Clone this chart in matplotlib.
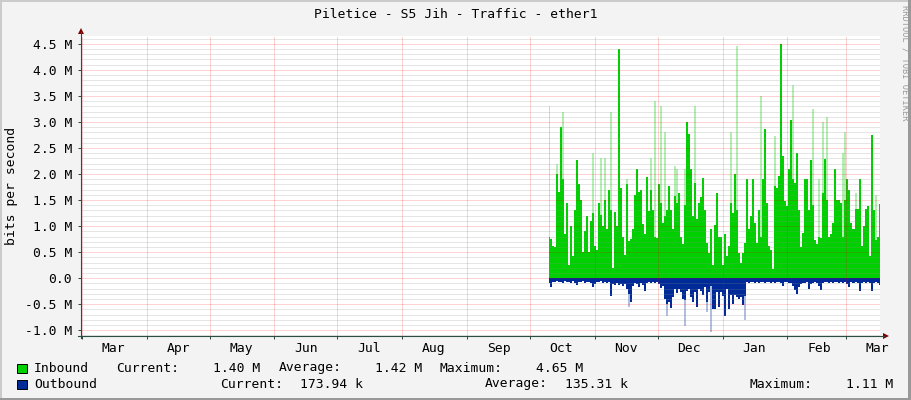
import numpy as np
import pandas as pd
import matplotlib
matplotlib.use("Agg")
import matplotlib.pyplot as plt
import matplotlib.dates as mdates
from matplotlib.patches import Rectangle, Polygon
from matplotlib.lines import Line2D
from matplotlib.ticker import MultipleLocator, FuncFormatter, NullFormatter

# ---- data (Mbit/s) ----
title = "Piletice - S5 Jih - Traffic - ether1"
y_label = "bits per second"
watermark = "RRDTOOL / TOBI OETIKER"

view_start, view_end = "2014-02-28 14:00", "2015-03-17 05:00"
data_start, data_end = "2014-10-10", "2015-03-17"
y_min, y_max = -1.11, 4.65

inbound = [
    0.80, 0.75, 0.62, 0.60, 2.00, 1.65, 2.90, 1.90, 0.85, 1.45,
    0.25, 1.00, 0.42, 1.30, 2.27, 1.80, 1.50, 0.50, 0.90, 1.20,
    0.50, 1.10, 1.25, 0.62, 0.55, 1.45, 1.22, 1.00, 1.50, 0.95,
    1.70, 1.30, 0.20, 1.27, 1.00, 4.40, 1.74, 0.80, 0.45, 1.80,
    0.71, 0.75, 0.94, 1.60, 2.10, 1.65, 1.70, 1.05, 0.85, 1.95,
    1.29, 1.70, 1.30, 0.80, 0.78,
    1.80, 1.45, 1.06, 1.20, 1.30, 1.77, 1.30, 0.94, 1.58, 1.45,
    1.64, 0.80, 0.65, 1.40, 3.00, 2.76, 2.10, 1.20, 1.83, 1.13,
    1.45, 1.55, 1.93, 1.30, 0.68, 0.49, 0.94, 0.26, 1.03, 1.64,
    0.80, 0.80, 0.26, 0.84, 0.42, 0.62, 1.45, 1.26, 2.00, 1.30,
    0.49, 0.30, 0.49, 0.68, 1.90, 0.95, 1.20, 1.90, 1.06, 0.68,
    1.30, 0.80, 1.90, 2.86, 1.45,
    0.62, 0.55, 0.17, 1.77, 1.74, 1.96, 4.50, 2.35, 1.48, 1.38,
    2.10, 3.03, 1.90, 1.83, 2.40, 1.30, 0.60, 0.87, 1.90, 1.90,
    1.30, 2.27, 1.40, 0.74, 0.65, 0.80, 0.78, 1.64, 2.28, 1.50,
    0.80, 0.84, 1.06, 2.10, 1.50, 1.50, 1.45, 0.80, 1.50, 1.90,
    1.70, 1.06, 0.94, 1.32, 1.32, 1.90, 0.62, 1.00, 1.32, 1.38,
    0.42, 2.75, 1.30, 0.74, 0.80, 1.42,
]
# short bursts that show as faded tops
inbound_peak_at = [0, 4, 7, 22, 26, 28, 31, 39, 51, 53,
                   56, 58, 63, 64, 68, 73, 91, 94, 106,
                   113, 122, 132, 135, 137, 139, 147, 148, 153, 163]
inbound_peak = [3.3, 2.2, 3.2, 2.4, 2.3, 2.3, 3.2, 1.9, 2.3, 3.4,
                3.3, 2.8, 2.15, 2.1, 2.1, 3.3, 2.8, 4.46, 3.5,
                2.73, 3.7, 3.24, 1.9, 3.0, 3.1, 2.4, 2.8, 1.64, 1.6]

outbound = [
    0.10, 0.17, 0.07, 0.08, 0.06, 0.08, 0.07, 0.09, 0.06, 0.08,
    0.07, 0.09, 0.06, 0.10, 0.13, 0.07, 0.08, 0.06, 0.09, 0.07,
    0.08, 0.10, 0.17, 0.12, 0.07, 0.08, 0.06, 0.09, 0.07, 0.10,
    0.08, 0.35, 0.12, 0.14, 0.10, 0.13, 0.11, 0.15, 0.12, 0.20,
    0.30, 0.45, 0.15, 0.10, 0.12, 0.17, 0.10, 0.13, 0.24, 0.09,
    0.08, 0.10, 0.07, 0.09, 0.08, 0.12, 0.18, 0.15, 0.40, 0.50,
    0.45, 0.58, 0.36, 0.20, 0.28, 0.21, 0.27, 0.40, 0.42, 0.24,
    0.20, 0.36, 0.46, 0.27, 0.56, 0.20, 0.25, 0.33, 0.16, 0.45,
    0.27, 0.15, 0.59, 0.59, 0.27, 0.56, 0.27, 0.35, 0.72, 0.20,
    0.59, 0.33, 0.49, 0.33, 0.36, 0.40, 0.36, 0.52, 0.35, 0.08,
    0.09, 0.07, 0.08, 0.10, 0.07, 0.09, 0.08, 0.07, 0.10, 0.08,
    0.07, 0.09, 0.08, 0.10, 0.08, 0.07, 0.09, 0.15, 0.08, 0.07,
    0.10, 0.09, 0.15, 0.22, 0.30, 0.17, 0.12, 0.09, 0.10, 0.08,
    0.20, 0.12, 0.09, 0.08, 0.10, 0.15, 0.22, 0.09, 0.08, 0.07,
    0.09, 0.08, 0.10, 0.08, 0.07, 0.09, 0.08, 0.10, 0.08, 0.11,
    0.17, 0.08, 0.09, 0.07, 0.10, 0.24, 0.10, 0.08, 0.09, 0.07,
    0.10, 0.24, 0.09, 0.08, 0.10, 0.14,
]
outbound_peak_at = [40, 59, 68, 79, 81, 98]
outbound_peak = [0.56, 0.72, 0.91, 0.65, 1.04, 0.81]

series_names = ["Inbound", "Outbound"]
stat_names = ["Current:", "Average:", "Maximum:"]
inbound_stats = ["1.40 M", "1.42 M", "4.65 M"]
outbound_stats = ["173.94 k", "135.31 k", "1.11 M"]

# ---- style ----
W, H = 911, 400
GREEN, BLUE = "#00CF00", "#002A97"
FS = 9.4
plt.rcParams["font.family"] = ["DejaVu Sans Mono"]

def fx(x):
    return x / W

def fy(y):
    return 1 - y / H

fig = plt.figure(figsize=(W / 100, H / 100), dpi=100, facecolor="#F3F3F3")
ax = fig.add_axes([fx(81), fy(336), (880 - 81) / W, (336 - 36) / H])
ax.set_facecolor("white")

t = pd.date_range(data_start, data_end, periods=len(inbound))
inb = np.array(inbound)
inb_peak = inb.copy()
inb_peak[inbound_peak_at] = inbound_peak
outb = np.array(outbound)
outb_peak = outb.copy()
outb_peak[outbound_peak_at] = outbound_peak

ax.fill_between(t, 0, inb_peak, step="mid", color=GREEN, alpha=0.3, lw=0)
ax.fill_between(t, 0, inb, step="mid", color=GREEN, lw=0)
ax.fill_between(t, 0, -outb_peak, step="mid", color=BLUE, alpha=0.3, lw=0)
ax.fill_between(t, 0, -outb, step="mid", color=BLUE, lw=0)

ax.set_xlim(pd.Timestamp(view_start), pd.Timestamp(view_end))
ax.set_ylim(y_min, y_max)

# grid on top of the data, like rrdtool
ax.set_axisbelow(False)
ax.yaxis.set_major_locator(MultipleLocator(0.5))
ax.yaxis.set_minor_locator(MultipleLocator(0.1))
ax.yaxis.set_major_formatter(FuncFormatter(lambda v, p: "0.0" if abs(v) < 1e-9 else f"{v:.1f} M"))
ax.xaxis.set_major_locator(mdates.MonthLocator(bymonthday=1))
ax.xaxis.set_major_formatter(NullFormatter())
ax.xaxis.set_minor_locator(mdates.MonthLocator(bymonthday=16))
ax.xaxis.set_minor_formatter(mdates.DateFormatter("%b"))

dots = (0, (1, 1))
ax.grid(which="minor", axis="y", color="#8F8F8F", alpha=0.45, lw=0.72, ls=dots)
ax.grid(which="major", axis="y", color="#F00000", alpha=0.35, lw=0.72, ls=dots)
ax.grid(which="major", axis="x", color="#F00000", alpha=0.35, lw=0.72, ls=dots)

ax.tick_params(axis="y", which="major", length=2.2, width=0.72, color="#2C4D43",
               pad=4.3, labelsize=FS)
ax.tick_params(axis="y", which="minor", length=0)
ax.tick_params(axis="x", which="major", length=2.2, width=0.72, color="#2C4D43")
ax.tick_params(axis="x", which="minor", length=0, pad=4.0, labelsize=FS)
for s in ax.spines.values():
    s.set_visible(False)

# axes with arrows
fig.add_artist(Line2D([fx(81), fx(81)], [fy(338), fy(32)], color="#2C4D43", lw=0.8))
fig.add_artist(Line2D([fx(78), fx(884)], [fy(336), fy(336)], color="#2C4D43", lw=0.8))
fig.add_artist(Polygon([[fx(78), fy(34)], [fx(84), fy(34)], [fx(81), fy(28)]],
                       closed=True, color="#7F0000", lw=0))
fig.add_artist(Polygon([[fx(883), fy(333)], [fx(883), fy(339)], [fx(889), fy(336)]],
                       closed=True, color="#7F0000", lw=0))

# texts
fig.text(fx(455.5), fy(14), title, ha="center", va="center", fontsize=FS)
fig.text(fx(12), fy(186), y_label, ha="center", va="center", rotation=90, fontsize=FS)
fig.text(fx(905), fy(5), watermark, ha="center", va="top", rotation=270,
         fontsize=6.2, color="#9A9A9A")

# legend
rows = [
    (368, GREEN, series_names[0], inbound_stats, [116, 279, 440], [213, 375, 536]),
    (384, BLUE, series_names[1], outbound_stats, [220, 485, 749], [300, 565, 846]),
]
for y, col, name, stats, lx, vx in rows:
    fig.add_artist(Rectangle((fx(17), fy(y + 4.5)), 10 / W, 9 / H,
                             facecolor=col, edgecolor="black", lw=0.7))
    fig.text(fx(34), fy(y), name, va="center", fontsize=FS)
    for label, value, x1, x2 in zip(stat_names, stats, lx, vx):
        fig.text(fx(x1), fy(y), label, va="center", fontsize=FS)
        fig.text(fx(x2), fy(y), value, va="center", fontsize=FS)

# 3d frame
fig.add_artist(Rectangle((0, fy(2)), 1, 2 / H, transform=fig.transFigure, color="#CBCBCB", lw=0))
fig.add_artist(Rectangle((0, 0), 2 / W, 1, transform=fig.transFigure, color="#CBCBCB", lw=0))
fig.add_artist(Rectangle((fx(908), 0), 3 / W, 1, transform=fig.transFigure, color="#999999", lw=0))
fig.add_artist(Rectangle((0, 0), 1, 2 / H, transform=fig.transFigure, color="#999999", lw=0))

fig.savefig("out.png", dpi=100, facecolor=fig.get_facecolor())
